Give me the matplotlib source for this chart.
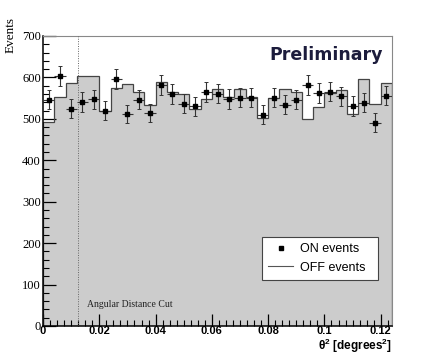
import numpy as np
import matplotlib
matplotlib.use("Agg")
import matplotlib.pyplot as plt
from matplotlib.ticker import MultipleLocator
from matplotlib.lines import Line2D

# ---- data ----
bin_width = 0.004
bin_edges = np.arange(0, 0.124 + 1e-9, bin_width)
on_events = [546, 604, 524, 541, 547, 520, 596, 512, 546, 514, 582, 560, 537, 530, 565,
             561, 548, 551, 551, 510, 551, 534, 546, 582, 562, 566, 554, 531, 539, 491, 556]
off_events = [493, 552, 587, 603, 603, 518, 574, 584, 566, 534, 590, 566, 559, 523, 547,
              572, 552, 571, 552, 502, 550, 572, 564, 499, 528, 562, 570, 511, 596, 536, 587]
cut_value = 0.0125
x_ticks = [0, 0.02, 0.04, 0.06, 0.08, 0.1, 0.12]
x_tick_labels = ["0", "0.02", "0.04", "0.06", "0.08", "0.1", "0.12"]
y_ticks = [0, 100, 200, 300, 400, 500, 600, 700]

on = np.array(on_events, dtype=float)
off = np.array(off_events, dtype=float)
centers = (bin_edges[:-1] + bin_edges[1:]) / 2
on_err = np.sqrt(on)

fig = plt.figure(figsize=(4.36, 3.59), dpi=100)
ax = fig.add_axes([43/436, 1-326/359, (392-43)/436, (326-36)/359])

# OFF histogram filled
ax.stairs(off, bin_edges, fill=True, color="#cccccc", zorder=1)
ax.stairs(off, bin_edges, color="#444444", linewidth=0.9, zorder=2)

# cut line
ax.axvline(cut_value, color="#666666", linestyle=(0, (1, 1.5)), linewidth=0.7, zorder=3)
ax.text(cut_value + 0.0032, 40, "Angular Distance Cut", family="Liberation Serif",
        fontsize=7, color="#222222", ha="left", va="bottom", zorder=4)

# ON points
ax.errorbar(centers, on, yerr=on_err, fmt="none", ecolor="#333333", elinewidth=0.8,
            capsize=1.5, capthick=0.7, zorder=5)
ax.errorbar(centers, on, xerr=bin_width/2, fmt="none", ecolor="#333333", elinewidth=0.8,
            capsize=0, zorder=5)
ax.plot(centers, on, "s", color="black", markersize=3.3, zorder=6)

ax.set_xlim(0, 0.124)
ax.set_ylim(0, 700)
ax.set_xticks(x_ticks)
ax.set_xticklabels(x_tick_labels, family="Liberation Sans", fontweight="bold", fontsize=8)
ax.set_yticks(y_ticks)
ax.set_yticklabels([str(v) for v in y_ticks], family="Liberation Serif", fontsize=9)
ax.xaxis.set_minor_locator(MultipleLocator(0.0025))
ax.yaxis.set_minor_locator(MultipleLocator(20))
ax.tick_params(axis="both", which="major", direction="in", length=9, width=0.9)
ax.tick_params(axis="x", which="major", pad=0.0)
ax.tick_params(axis="y", which="major", pad=1.5)
ax.tick_params(axis="both", which="minor", direction="in", length=4.5, width=0.8)
ax.tick_params(top=False, right=False, which="both")
ax.spines["left"].set_linewidth(1.1)
ax.spines["bottom"].set_linewidth(1.1)
ax.spines["top"].set_color("#888888")
ax.spines["right"].set_color("#888888")
ax.spines["top"].set_linewidth(0.8)
ax.spines["right"].set_linewidth(0.8)

# labels
fig.text(392/436, 1-350/359, r"$\mathregular{\theta^2}$ [degrees$\mathregular{^2}$]",
         family="Liberation Sans", fontweight="bold", fontsize=8.5, ha="right", va="baseline")
fig.text(11/436, 1-35/359, "Events", family="Liberation Serif", fontsize=9.5,
         rotation=90, ha="center", va="center")

fig.text(383/436, 1-55/359, "Preliminary", family="DejaVu Sans", fontweight="bold",
         fontsize=12.5, color="#1c1c3c", ha="right", va="center")

# legend
handles = [Line2D([], [], marker="s", linestyle="none", color="black", markersize=3.3),
           Line2D([], [], color="#555555", linewidth=0.8)]
leg = ax.legend(handles, ["ON events", "OFF events"], loc="lower left",
                bbox_to_anchor=((262-43)/349, (326-280)/290, (378-262)/349, (280-229)/290),
                mode="expand", prop={"family": "Liberation Sans", "size": 9},
                frameon=True, fancybox=False, framealpha=1, edgecolor="#444444",
                borderpad=0.5, handlelength=2.0, handletextpad=0.5, labelspacing=0.5,
                borderaxespad=0)
leg.get_frame().set_linewidth(0.8)

fig.savefig("out.png", dpi=100)
